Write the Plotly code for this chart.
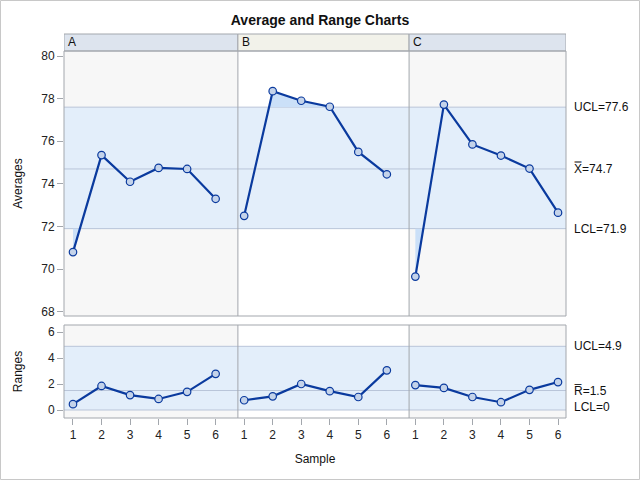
import plotly.graph_objects as go

# ---------------- data ----------------
panels = ["A", "B", "C"]
samples = [1, 2, 3, 4, 5, 6]
avg_A = [70.8, 75.35, 74.1, 74.75, 74.7, 73.3]
avg_B = [72.5, 78.35, 77.9, 77.62, 75.5, 74.45]
avg_C = [69.65, 77.72, 75.85, 75.33, 74.72, 72.65]
rng_A = [0.45, 1.85, 1.15, 0.85, 1.4, 2.78]
rng_B = [0.75, 1.05, 2.0, 1.45, 1.0, 3.05]
rng_C = [1.92, 1.7, 1.0, 0.6, 1.55, 2.15]
avg_limits = {"UCL": 77.6, "CL": 74.7, "LCL": 71.9}
rng_limits = {"UCL": 4.9, "CL": 1.5, "LCL": 0.0}
avg_labels = ["UCL=77.6", "X\u033F=74.7", "LCL=71.9"]
rng_labels = ["UCL=4.9", "R\u0305=1.5", "LCL=0"]
avg_ticks = [68, 70, 72, 74, 76, 78, 80]
rng_ticks = [0, 2, 4, 6]

avgs = [avg_A, avg_B, avg_C]
rngs = [rng_A, rng_B, rng_C]

# ---------------- style ----------------
FONT = "Liberation Sans, Arial, sans-serif"
LINE = "#0a3a9e"
MFILL = "#c4d3ea"
BAND = "#e3eefa"
OUT = "#cbe0f8"
LIMLINE = "#b9c5d9"
FRAME = "#a3a7ad"
BG_ALT = "#f7f7f7"
HDR = ["#dde4ee", "#f2f2ea", "#dde4ee"]
PANEL_BG = [BG_ALT, "#ffffff", BG_ALT]

W, H = 640, 480
ML, MR, MT, MB = 64, 74, 34, 62
PH = H - MT - MB


def py(px):
    return (H - MB - px) / PH


def pxx(px):
    return (px - ML) / (W - ML - MR)


top_dom = [py(316), py(51)]
bot_dom = [0, py(325)]
x_range = [0.685, 18.28]
bounds = [x_range[0], 6.78, 12.78, x_range[1]]

fig = go.Figure()


def clip_poly(xs, ys, lim, above):
    pts = []
    for i in range(len(xs)):
        if i > 0:
            y0, y1 = ys[i - 1], ys[i]
            if (y0 - lim) * (y1 - lim) < 0:
                t = (lim - y0) / (y1 - y0)
                pts.append((xs[i - 1] + t * (xs[i] - xs[i - 1]), lim))
        pts.append((xs[i], ys[i]))
    px_ = [p[0] for p in pts]
    py_ = [max(p[1], lim) if above else min(p[1], lim) for p in pts]
    return px_ + [px_[-1], px_[0], px_[0]], py_ + [lim, lim, py_[0]]


for k, (vals_list, lims, xa, ya) in enumerate([
        (avgs, avg_limits, "x2", "y"), (rngs, rng_limits, "x", "y2")]):
    for p, vals in enumerate(vals_list):
        xs = [p * 6 + s for s in samples]
        for above, lim in [(True, lims["UCL"]), (False, lims["LCL"])]:
            if any((v > lim) if above else (v < lim) for v in vals):
                fx, fy = clip_poly(xs, vals, lim, above)
                fig.add_trace(go.Scatter(x=fx, y=fy, mode="lines", fill="toself",
                                         fillcolor=OUT, line=dict(width=0),
                                         hoverinfo="skip", showlegend=False,
                                         xaxis=xa, yaxis=ya))
        fig.add_trace(go.Scatter(x=xs, y=vals, mode="lines+markers",
                                 line=dict(color=LINE, width=2.2),
                                 marker=dict(size=7.5, color=MFILL,
                                             line=dict(color=LINE, width=1.2)),
                                 showlegend=False, xaxis=xa, yaxis=ya))

shapes = []
for yd in ["y domain", "y2 domain"]:
    for p in range(3):
        shapes.append(dict(type="rect", xref="x", yref=yd, x0=bounds[p], x1=bounds[p + 1],
                           y0=0, y1=1, fillcolor=PANEL_BG[p], line=dict(width=0),
                           layer="below"))
for yr, lims in [("y", avg_limits), ("y2", rng_limits)]:
    shapes.append(dict(type="rect", xref="x domain", yref=yr, x0=0, x1=1,
                       y0=lims["LCL"], y1=lims["UCL"], fillcolor=BAND,
                       line=dict(width=0), layer="below"))
    for key in ["UCL", "CL", "LCL"]:
        shapes.append(dict(type="line", xref="x domain", yref=yr, x0=0, x1=1,
                           y0=lims[key], y1=lims[key],
                           line=dict(color=LIMLINE, width=1), layer="below"))
# headers
hdr_top = 1 + 17 / (316 - 51)
for p in range(3):
    shapes.append(dict(type="rect", xref="x", yref="y domain", x0=bounds[p], x1=bounds[p + 1],
                       y0=1, y1=hdr_top, fillcolor=HDR[p],
                       line=dict(color=FRAME, width=1)))
# panel separators
for b in bounds[1:3]:
    for yd in ["y domain", "y2 domain"]:
        shapes.append(dict(type="line", xref="x", yref=yd, x0=b, x1=b, y0=0, y1=1,
                           line=dict(color=FRAME, width=1)))
# frames
for yd in ["y domain", "y2 domain"]:
    shapes.append(dict(type="rect", xref="x domain", yref=yd, x0=0, x1=1, y0=0, y1=1,
                       line=dict(color=FRAME, width=1)))
# outer border
shapes.append(dict(type="rect", xref="paper", yref="paper",
                   x0=pxx(0.5), x1=pxx(639.5), y0=py(479.5), y1=py(0.5),
                   line=dict(color="#c8c8c8", width=1)))

ann = []
for p in range(3):
    ann.append(dict(text=panels[p], xref="x", yref="y domain", x=bounds[p], y=(1 + hdr_top) / 2,
                    xanchor="left", yanchor="middle", xshift=2, showarrow=False,
                    font=dict(size=12, color="#111", family=FONT)))
for yr, lims, labs in [("y", avg_limits, avg_labels), ("y2", rng_limits, rng_labels)]:
    for key, lab in zip(["UCL", "CL", "LCL"], labs):
        yshift = 3 if (yr == "y2" and key == "LCL") else 0
        ann.append(dict(text=lab, xref="paper", yref=yr, x=pxx(572), y=lims[key],
                        xanchor="left", yanchor="middle", showarrow=False, yshift=yshift,
                        font=dict(size=12, color="#111", family=FONT)))

tickfont = dict(size=12, color="#222", family=FONT)
fig.update_layout(
    width=W, height=H,
    margin=dict(l=ML, r=MR, t=MT, b=MB),
    paper_bgcolor="white", plot_bgcolor="white",
    font=dict(family=FONT, size=12, color="#111"),
    title=dict(text="<b>Average and Range Charts</b>", x=0.5, xref="container", xanchor="center",
               y=1 - 20 / H, yanchor="middle", font=dict(size=14, family=FONT, color="#111")),
    showlegend=False,
    xaxis=dict(domain=[0, 1], range=x_range, anchor="y2", tickmode="array",
               tickvals=list(range(1, 19)), ticktext=[str(s) for s in samples] * 3,
               ticks="outside", ticklen=6, tickcolor=FRAME, showgrid=False, zeroline=False,
               showline=False, tickfont=tickfont,
               title=dict(text="Sample", font=dict(size=12, family=FONT, color="#111"), standoff=13)),
    xaxis2=dict(domain=[0, 1], range=x_range, anchor="y", matches="x", showticklabels=False,
                ticks="", showgrid=False, zeroline=False, showline=False),
    yaxis=dict(domain=top_dom, range=[67.8, 80.235], tickvals=avg_ticks, ticks="outside",
               ticklen=6, tickcolor=FRAME, showgrid=False, zeroline=False, showline=False,
               tickfont=tickfont, anchor="x2",
               title=dict(text="Averages", font=dict(size=12, family=FONT, color="#111"), standoff=16)),
    yaxis2=dict(domain=bot_dom, range=[-0.615, 6.54], tickvals=rng_ticks, ticks="outside",
                ticklen=6, tickcolor=FRAME, showgrid=False, zeroline=False, showline=False,
                tickfont=tickfont, anchor="x",
                title=dict(text="Ranges", font=dict(size=12, family=FONT, color="#111"), standoff=22)),
    shapes=shapes, annotations=ann,
)

fig.write_html("out.html", config={"displayModeBar": False},
               post_script="document.body.style.margin='0';")
